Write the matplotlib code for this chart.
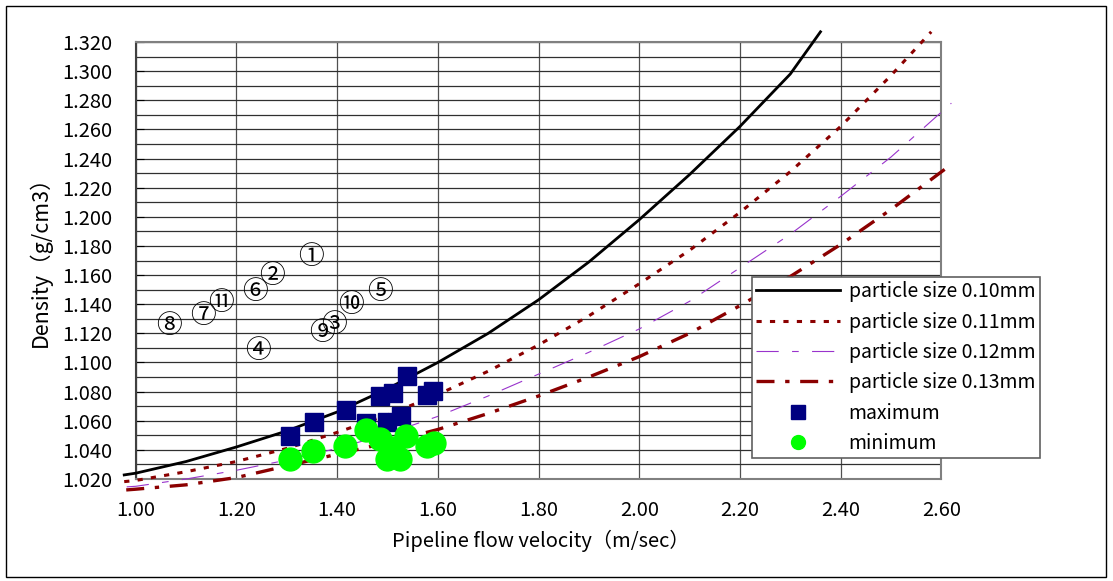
import matplotlib
matplotlib.use("Agg")
import matplotlib.pyplot as plt
from matplotlib.patches import Rectangle

plt.rcParams['font.family'] = ['Noto Sans CJK JP', 'DejaVu Sans']

# theoretical curves
x_010 = [0.977, 1.0, 1.1, 1.2, 1.3, 1.4, 1.5, 1.6, 1.7, 1.8, 1.9, 2.0, 2.1, 2.2, 2.3, 2.36]
d_010 = [1.0228, 1.024, 1.032, 1.042, 1.053, 1.066, 1.082, 1.100, 1.120, 1.143, 1.169, 1.198, 1.229, 1.262, 1.298, 1.327]

x_011 = [0.977, 1.0, 1.1, 1.2, 1.3, 1.4, 1.5, 1.6, 1.7, 1.8, 1.9, 2.0, 2.1, 2.2, 2.3, 2.4, 2.5, 2.58]
d_011 = [1.0182, 1.019, 1.025, 1.032, 1.041, 1.052, 1.064, 1.078, 1.094, 1.112, 1.132, 1.154, 1.177, 1.203, 1.231, 1.262, 1.297, 1.327]

x_012 = [0.982, 1.0, 1.1, 1.2, 1.3, 1.4, 1.5, 1.6, 1.7, 1.8, 1.9, 2.0, 2.1, 2.2, 2.3, 2.4, 2.5, 2.62]
d_012 = [1.0146, 1.015, 1.020, 1.026, 1.033, 1.041, 1.051, 1.063, 1.077, 1.092, 1.107, 1.123, 1.142, 1.165, 1.188, 1.214, 1.241, 1.278]

x_013 = [0.981, 1.0, 1.1, 1.2, 1.3, 1.4, 1.5, 1.6, 1.7, 1.8, 1.9, 2.0, 2.1, 2.2, 2.3, 2.4, 2.5, 2.62]
d_013 = [1.0125, 1.013, 1.016, 1.021, 1.029, 1.037, 1.045, 1.054, 1.065, 1.077, 1.090, 1.104, 1.120, 1.139, 1.159, 1.181, 1.205, 1.236]

# measurements
max_v = [1.307, 1.354, 1.417, 1.458, 1.485, 1.511, 1.538, 1.498, 1.526, 1.579, 1.591]
max_d = [1.0496, 1.0594, 1.0674, 1.0583, 1.0773, 1.0793, 1.0908, 1.0594, 1.0633, 1.0777, 1.0806]

min_v = [1.307, 1.352, 1.416, 1.458, 1.485, 1.511, 1.498, 1.525, 1.537, 1.578, 1.592]
min_d = [1.0336, 1.0395, 1.0427, 1.0537, 1.0473, 1.041, 1.0336, 1.0336, 1.0496, 1.0427, 1.0446]

# circled sample numbers
lbl_txt = ['①', '②', '③', '④', '⑤', '⑥', '⑦', '⑧', '⑨', '⑩', '⑪']
lbl_v = [1.349, 1.270, 1.394, 1.243, 1.485, 1.237, 1.134, 1.065, 1.369, 1.427, 1.169]
lbl_d = [1.1726, 1.1594, 1.1258, 1.1081, 1.1487, 1.1487, 1.1319, 1.1251, 1.1205, 1.1395, 1.1411]

W, H = 1113, 581
fig = plt.figure(figsize=(W / 100, H / 100), dpi=100)
fig.patches.append(Rectangle((6 / W, 4 / H), 1100 / W, 571 / H, transform=fig.transFigure,
                             fill=False, edgecolor='black', lw=1))

ax = fig.add_axes([135.8 / W, (H - 479) / H, 805.5 / W, 437 / H])

ax.plot(x_010, d_010, color='black', lw=2.0, clip_on=False, label='particle size 0.10mm', zorder=3)
ax.plot(x_011, d_011, color='#8B0000', lw=2.2, dashes=(1.7, 2.7), clip_on=False,
        label='particle size 0.11mm', zorder=3)
ax.plot(x_012, d_012, color='#9933CC', lw=0.8, dashes=(20, 12, 6, 12), clip_on=False,
        label='particle size 0.12mm', zorder=3)
ax.plot(x_013, d_013, color='#8B0000', lw=2.4, dashes=(5.4, 3.2, 1.3, 3.2), clip_on=False,
        label='particle size 0.13mm', zorder=3)

ax.plot(max_v, max_d, 's', color='#000080', ms=13, ls='none', label='maximum', zorder=4)
ax.plot(min_v, min_d, 'o', color='#00FF00', ms=16.5, ls='none', label='minimum', zorder=5)

for t, v, d in zip(lbl_txt, lbl_v, lbl_d):
    ax.text(v, d, t, fontsize=18.5, ha='center', va='center', zorder=6)

ax.set_xlim(1.0, 2.6)
ax.set_ylim(1.02, 1.32)
ax.set_xticks([1.0 + 0.2 * i for i in range(9)])
ax.set_yticks([1.02 + 0.02 * i for i in range(16)])
ax.set_yticks([1.03 + 0.02 * i for i in range(15)], minor=True)
ax.xaxis.set_major_formatter(plt.FormatStrFormatter('%.2f'))
ax.yaxis.set_major_formatter(plt.FormatStrFormatter('%.3f'))
ax.grid(True, which='both', axis='y', color='#303030', lw=0.9)
ax.grid(True, which='major', axis='x', color='#505050', lw=0.9)
ax.set_axisbelow(True)

ax.tick_params(axis='y', which='major', direction='in', length=6, pad=17, labelsize=14.5)
ax.tick_params(axis='y', which='minor', length=0)
ax.tick_params(axis='x', length=0, pad=15, labelsize=14.5)

for s in ['top', 'right', 'bottom']:
    ax.spines[s].set_color('#808080')
    ax.spines[s].set_linewidth(1.5)
ax.spines['left'].set_color('#404040')
ax.spines['left'].set_linewidth(1.5)

ax.set_xlabel('Pipeline flow velocity（m/sec）', fontsize=14.5)
ax.set_ylabel('Density（g/cm3）', fontsize=15.5)
ax.xaxis.set_label_coords(0.503, -0.117)
ax.yaxis.set_label_coords(-0.104, 0.51)

leg = ax.legend(loc='upper left', bbox_to_anchor=(752 / W, 1 - 277 / H),
                bbox_transform=fig.transFigure, fontsize=14, frameon=True, fancybox=False,
                edgecolor='#606060', handlelength=4.3, handletextpad=0.45, labelspacing=0.48,
                borderpad=0.22, borderaxespad=0, numpoints=1, framealpha=1)
leg.get_frame().set_linewidth(1.2)
for h in leg.legend_handles[4:]:
    h.set_markersize(10)

fig.savefig('out.png', dpi=100)
